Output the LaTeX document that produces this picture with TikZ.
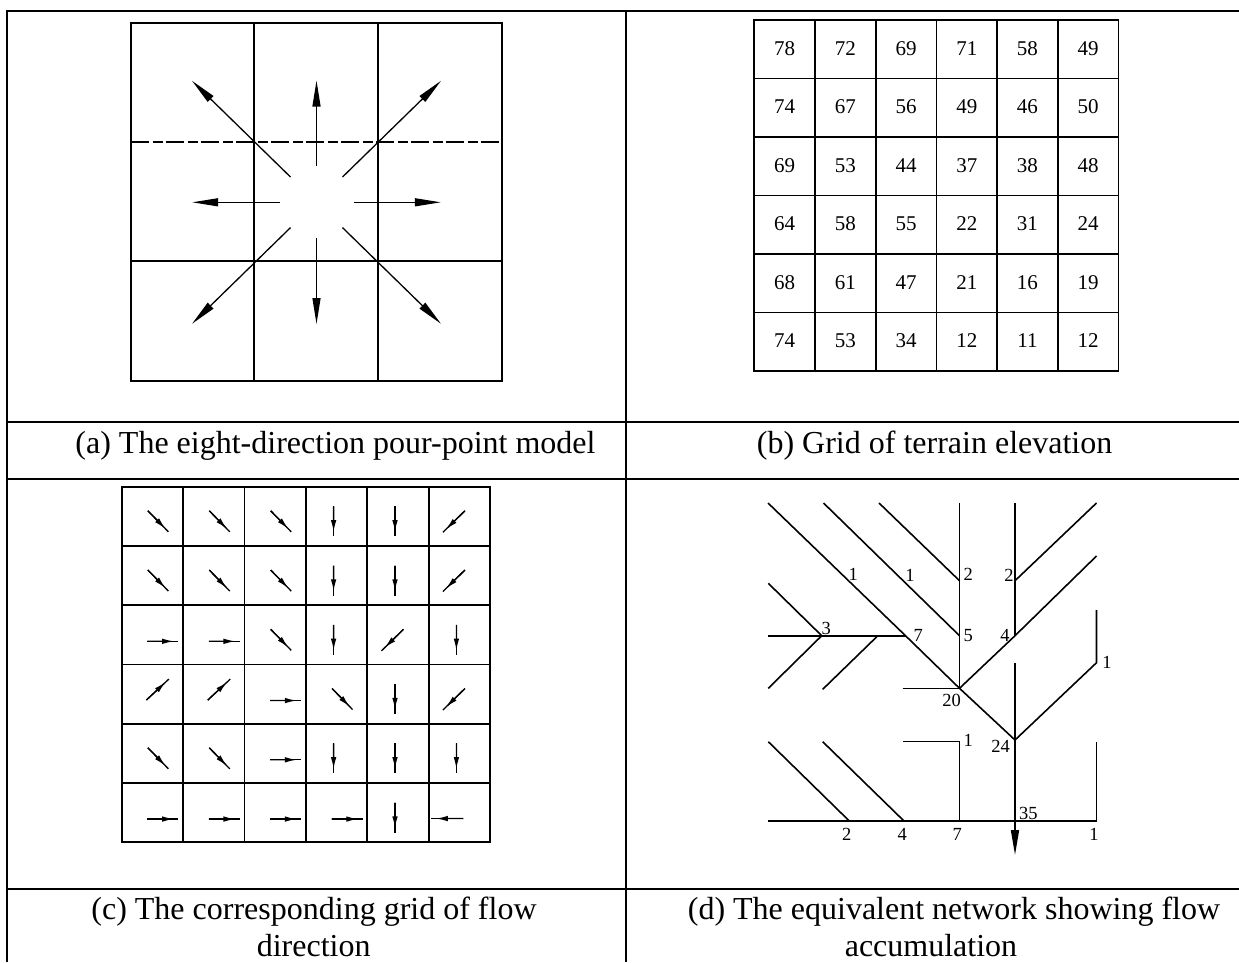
\documentclass[tikz,border=0pt]{standalone}
\usepackage{fontspec}
\setmainfont{Liberation Serif}
\usetikzlibrary{arrows.meta,calc}
\newcommand\flowarr[6]{%
  \coordinate (fa-t) at ({152.4+61.4*#1+#3},{516.3+59.25*#2+#4});
  \coordinate (fa-h) at ({152.4+61.4*#1+#5},{516.3+59.25*#2+#6});
  \draw[cellline] (fa-t) -- (fa-h);
  \draw[cellhead] (fa-t) -- ($(fa-t)!0.86!(fa-h)$);
}
\begin{document}
\begin{tikzpicture}[x=1pt,y=-1pt,
  frame/.style={line width=1.8pt},
  gridline/.style={line width=1.7pt,line cap=rect},
  bigarrow/.style={line width=1.3pt,-{Triangle[length=26pt,width=8pt]}},
  cellline/.style={line width=1.3pt},
  cellhead/.style={line width=1.3pt,-{Latex[length=12pt,width=5.5pt]}},
  netline/.style={line width=1.6pt},
  captext/.style={font=\fontsize{32}{37}\selectfont,anchor=base,inner sep=0pt},
  num/.style={font=\fontsize{21}{24}\selectfont,inner sep=0pt},
  lab/.style={font=\fontsize{18.5}{21}\selectfont,inner sep=0pt},
]
\useasboundingbox (0,0) rectangle (1239,962);
\fill[white] (0,0) rectangle (1239,962);

% ---------- frame ----------
\draw[frame] (7,962) -- (7,10.7) -- (1239,10.7);
\draw[frame] (625.7,10.7) -- (625.7,962);
\draw[frame] (7,422) -- (1239,422);
\draw[frame] (7,479) -- (1239,479);
\draw[frame] (7,889) -- (1239,889);

% ---------- panel (a) ----------
\draw[gridline] (131,23) rectangle (502,381);
\draw[gridline] (254,23) -- (254,381);
\draw[gridline] (378,23) -- (378,381);
\draw[gridline] (131,261) -- (502,261);
\draw[line width=1.1pt,dash pattern=on 18pt off 4pt on 10pt off 3pt] (131,142) -- (502,142);
\coordinate (ac) at (316.5,202.3);
\foreach \sx/\sy/\tx/\ty in {-26/-25.3/-124.5/-121.5, 26/-25.3/124.5/-121.5,
  -26/25.3/-124.5/121.5, 26/25.3/124.5/121.5,
  0/-36/0/-121.7, 0/36/0/121.7, -37/0/-124.3/0, 37/0/124.3/0}
  {\draw[bigarrow] ($(ac)+(\sx,\sy)$) -- ($(ac)+(\tx,\ty)$);}

% ---------- panel (b) ----------
\foreach \i in {0,...,6} {
  \draw[gridline] ({754.3+60.7*\i},20) -- ({754.3+60.7*\i},371);
  \draw[gridline] (754.3,{20+58.5*\i}) -- (1118.5,{20+58.5*\i});
}
\foreach \row [count=\ri from 0] in {{78,72,69,71,58,49},{74,67,56,49,46,50},
  {69,53,44,37,38,48},{64,58,55,22,31,24},{68,61,47,21,16,19},{74,53,34,12,11,12}}
  {\foreach \v [count=\ci from 0] in \row
    {\node[num] (b-\ri-\ci) at ({784.65+60.7*\ci},{48.5+58.5*\ri}) {\v};}}

% ---------- panel (c) ----------
\foreach \i in {0,...,6} {
  \draw[gridline] ({121.7+61.4*\i},486.7) -- ({121.7+61.4*\i},842.2);
  \draw[gridline] (121.7,{486.7+59.25*\i}) -- (490.1,{486.7+59.25*\i});
}
% south-east
\foreach \cc/\rr in {0/0,1/0,2/0,0/1,1/1,2/1,2/2,3/3,0/4,1/4}
  {\flowarr{\cc}{\rr}{-4.5}{-5.5}{16}{15.5}}
% south
\foreach \cc/\rr in {3/0,4/0,3/1,4/1,3/2,5/2,4/3,3/4,4/4,5/4,4/5}
  {\flowarr{\cc}{\rr}{-3}{-10}{-3}{20}}
% south-west
\foreach \cc/\rr in {5/0,5/1,4/2,5/3}
  {\flowarr{\cc}{\rr}{5.5}{-5.5}{-16.5}{16}}
% north-east
\foreach \cc/\rr in {0/3,1/3}
  {\flowarr{\cc}{\rr}{-6}{6}{16.5}{-15}}
% east
\foreach \cc/\rr in {0/2,1/2,2/3,2/4,0/5,1/5,2/5,3/5}
  {\flowarr{\cc}{\rr}{-5}{6.5}{26}{6.5}}
% west
\foreach \cc/\rr in {5/5}
  {\flowarr{\cc}{\rr}{4}{6}{-28}{6}}

% ---------- panel (d) ----------
\coordinate (d-A1) at (768,503);
\coordinate (d-A2) at (823.5,503);
\coordinate (d-A3) at (879,503);
\coordinate (d-V1) at (959.5,503);
\coordinate (d-V2) at (1015,503);
\coordinate (d-A6) at (1096.5,503);
\coordinate (d-A7) at (1096.5,556);
\coordinate (d-J2a) at (959.5,580.7);
\coordinate (d-J2b) at (1015,580.7);
\coordinate (d-J7) at (905.5,635.7);
\coordinate (d-J5) at (959.5,635.7);
\coordinate (d-J4) at (1015,635.7);
\coordinate (d-J3) at (821.7,635.7);
\coordinate (d-L8) at (768.3,583.3);
\coordinate (d-H9) at (768.3,635.7);
\coordinate (d-L10) at (768.3,688.3);
\coordinate (d-L11a) at (877,636.5);
\coordinate (d-L11b) at (822.7,689.3);
\coordinate (d-S12) at (902.7,688.3);
\coordinate (d-J20) at (959.5,688.3);
\coordinate (d-V14) at (1015,662.7);
\coordinate (d-J24) at (1015,740);
\coordinate (d-R15t) at (1096.5,610);
\coordinate (d-R15b) at (1096.5,662.7);
\coordinate (d-BrL) at (903.3,741.5);
\coordinate (d-BrC) at (959.5,741.5);
\coordinate (d-BrB) at (959.5,821);
\coordinate (d-BL) at (768.3,821);
\coordinate (d-BR) at (1096.5,821);
\coordinate (d-BRt) at (1096.5,741.7);
\coordinate (d-J35) at (1015,821);
\coordinate (d-Out) at (1015,855);
\coordinate (d-D1a) at (768.3,741.7);
\coordinate (d-D1b) at (849.3,821);
\coordinate (d-D2a) at (822.7,741.7);
\coordinate (d-D2b) at (904,821);

\draw[netline] (d-A1) -- (d-J7) -- (d-J20);
\draw[netline] (d-A2) -- (d-J5);
\draw[netline] (d-A3) -- (d-J2a);
\draw[netline] (d-V1) -- (d-J2a) -- (d-J5) -- (d-J20);
\draw[netline] (d-V2) -- (d-J2b) -- (d-J4);
\draw[netline] (d-A6) -- (d-J2b);
\draw[netline] (d-A7) -- (d-J4) -- (d-J20);
\draw[netline] (d-L8) -- (d-J3);
\draw[netline] (d-H9) -- (d-J3) -- (d-J7);
\draw[netline] (d-J3) -- (d-L10);
\draw[netline] (d-L11a) -- (d-L11b);
\draw[netline] (d-S12) -- (d-J20);
\draw[netline] (d-J20) -- (d-J24);
\draw[netline] (d-R15t) -- (d-R15b) -- (d-J24);
\draw[netline] (d-V14) -- (d-J24) -- (d-J35);
\draw[netline,-{Triangle[length=25pt,width=8pt]}] (d-J35) -- (d-Out);
\draw[netline] (d-BrL) -- (d-BrC) -- (d-BrB);
\draw[netline] (d-BL) -- (d-BR) -- (d-BRt);
\draw[netline] (d-D1a) -- (d-D1b);
\draw[netline] (d-D2a) -- (d-D2b);

\node[lab] (l1a) at (853.3,574) {1};
\node[lab] (l1b) at (910,575) {1};
\node[lab] (l2a) at (968.3,574) {2};
\node[lab] (l2b) at (1009,575) {2};
\node[lab] (l3) at (826.3,628) {3};
\node[lab] (l7) at (918.3,635) {7};
\node[lab] (l5) at (968.3,635.7) {5};
\node[lab] (l4) at (1005,635.7) {4};
\node[lab] (l1c) at (1107,662.7) {1};
\node[lab] (l20) at (951.7,700) {20};
\node[lab] (l1d) at (968.3,740) {1};
\node[lab] (l24) at (1000.7,746) {24};
\node[lab] (l35) at (1028.3,813.3) {35};
\node[lab] (lb2) at (846.7,834) {2};
\node[lab] (lb4) at (902.3,834) {4};
\node[lab] (lb7) at (957.3,834) {7};
\node[lab] (lb1) at (1094,834) {1};

% ---------- captions ----------
\node[captext] (capa) at (335.5,453) {(a) The eight-direction pour-point model};
\node[captext] (capb) at (934.6,453) {(b) Grid of terrain elevation};
\node[captext] (capc1) at (314,919) {(c) The corresponding grid of flow};
\node[captext] (capc2) at (313.7,956) {direction};
\node[captext] (capd1) at (954,919) {(d) The equivalent network showing flow};
\node[captext] (capd2) at (931,956) {accumulation};
\end{tikzpicture}
\end{document}
